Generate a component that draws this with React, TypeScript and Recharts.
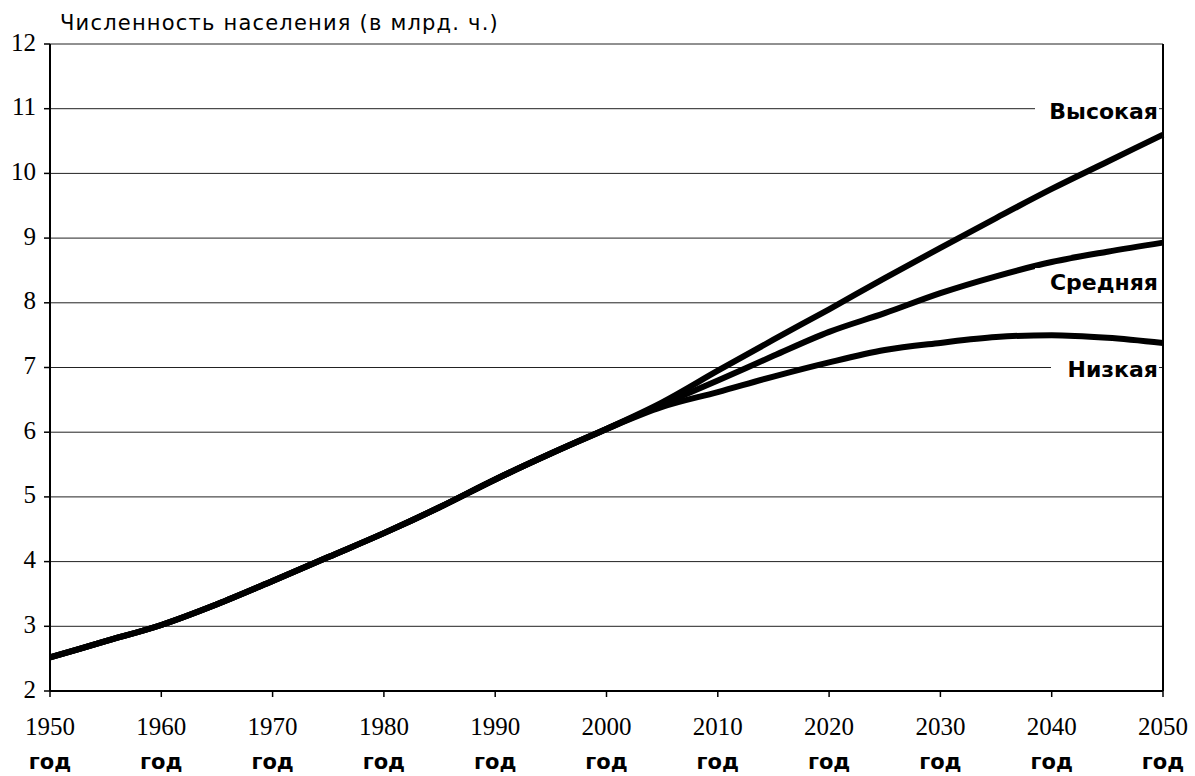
import React from 'react';
import { LineChart, Line, XAxis, YAxis, CartesianGrid, ReferenceLine, ReferenceDot } from 'recharts';

const years = [1950, 1955, 1960, 1965, 1970, 1975, 1980, 1985, 1990, 1995, 2000, 2005, 2010, 2015, 2020, 2025, 2030, 2035, 2040, 2045, 2050];
const historyValues = [2.52, 2.77, 3.02, 3.34, 3.7, 4.07, 4.44, 4.84, 5.27, 5.67, 6.05];
const highProjection = [6.46, 6.95, 7.43, 7.9, 8.38, 8.85, 9.31, 9.76, 10.18, 10.6];
const mediumProjection = [6.43, 6.8, 7.18, 7.55, 7.84, 8.15, 8.41, 8.63, 8.79, 8.93];
const lowProjection = [6.39, 6.62, 6.86, 7.08, 7.27, 7.38, 7.47, 7.5, 7.46, 7.38];

const xTicks = [1950, 1960, 1970, 1980, 1990, 2000, 2010, 2020, 2030, 2040, 2050];
const yTicks = [2, 3, 4, 5, 6, 7, 8, 9, 10, 11, 12];
const xTickSuffix = 'год';
const titleText = 'Численность населения (в млрд. ч.)';
const seriesLabels = ['Высокая', 'Средняя', 'Низкая'];
const seriesLabelValues = [10.95, 8.32, 6.97];

const high = [...historyValues, ...highProjection];
const medium = [...historyValues, ...mediumProjection];
const low = [...historyValues, ...lowProjection];

const data = years.map((year, i) => ({ year, high: high[i], medium: medium[i], low: low[i] }));

const XTick = (props: any) => {
  const { x, y, payload } = props;
  return (
    <g>
      <text x={x} y={y + 36} textAnchor="middle" fontFamily="'Liberation Serif', serif" fontSize={25} fill="#000">
        {payload.value}
      </text>
      <text x={x} y={y + 70} textAnchor="middle" fontFamily="'DejaVu Sans', sans-serif" fontWeight="bold" fontSize={21} fill="#000">
        {xTickSuffix}
      </text>
    </g>
  );
};

const YTick = (props: any) => {
  const { x, y, payload } = props;
  return (
    <text x={x} y={y} dy={-2} textAnchor="end" dominantBaseline="central" fontFamily="'Liberation Serif', serif" fontSize={25} fill="#000">
      {payload.value}
    </text>
  );
};

const makeLabel = (text: string) => (props: any) => {
  const vb = props.viewBox || {};
  const cx = (vb.x ?? 0) + (vb.width ?? 0) / 2;
  const cy = (vb.y ?? 0) + (vb.height ?? 0) / 2;
  const w = text.length * 16 + 12;
  return (
    <g>
      <rect x={cx - 4 - w} y={cy - 14} width={w} height={28} fill="#fff" />
      <text x={cx - 5} y={cy} textAnchor="end" dominantBaseline="central" fontFamily="'DejaVu Sans', sans-serif" fontWeight="bold" fontSize={22} fill="#000">
        {text}
      </text>
    </g>
  );
};

export default function App() {
  return (
    <div style={{ position: 'absolute', left: 0, top: 0, width: 1195, height: 776, background: '#fff' }}>
      <div
        style={{
          position: 'absolute',
          left: 60,
          top: 11,
          fontFamily: "'DejaVu Sans', sans-serif",
          fontSize: 21,
          letterSpacing: 1.2,
          color: '#000',
          whiteSpace: 'pre',
          lineHeight: '24px',
        }}
      >
        {titleText}
      </div>
      <LineChart width={1195} height={776} data={data} margin={{ top: 44, right: 32, left: 0, bottom: 0 }}>
        <CartesianGrid vertical={false} stroke="#222" strokeWidth={1} />
        <XAxis
          dataKey="year"
          type="number"
          domain={[1950, 2050]}
          ticks={xTicks}
          height={85}
          tick={<XTick />}
          tickSize={6}
          axisLine={{ stroke: '#000', strokeWidth: 2 }}
          tickLine={{ stroke: '#000', strokeWidth: 1.5 }}
          interval={0}
        />
        <YAxis
          type="number"
          domain={[2, 12]}
          ticks={yTicks}
          width={50}
          tick={<YTick />}
          tickSize={6}
          tickMargin={8}
          axisLine={{ stroke: '#000', strokeWidth: 2 }}
          tickLine={{ stroke: '#000', strokeWidth: 1.5 }}
          interval={0}
        />
        <ReferenceLine x={2050} stroke="#000" strokeWidth={2} />
        <Line type="monotone" dataKey="high" stroke="#000" strokeWidth={6} dot={false} isAnimationActive={false} />
        <Line type="monotone" dataKey="medium" stroke="#000" strokeWidth={6} dot={false} isAnimationActive={false} />
        <Line type="monotone" dataKey="low" stroke="#000" strokeWidth={6} dot={false} isAnimationActive={false} />
        {seriesLabels.map((name, i) => (
          <ReferenceDot key={name} x={2050} y={seriesLabelValues[i]} r={0} stroke="none" fill="none" label={makeLabel(name)} />
        ))}
      </LineChart>
    </div>
  );
}
